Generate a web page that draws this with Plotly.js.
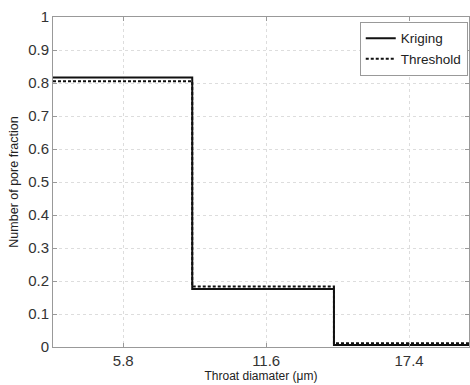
<!DOCTYPE html>
<html><head><meta charset="utf-8">
<script src="https://cdn.plot.ly/plotly-3.0.1.min.js"></script>
<style>html,body{margin:0;padding:0;background:#fff}#c{width:470px;height:385px}</style>
</head><body><div id="c"></div>
<script>
const binEdges = [2.95, 8.6, 14.35, 20.3];
const kriging = [0.817, 0.176, 0.006];
const threshold = [0.805, 0.183, 0.011];
const tickVals = [5.8, 11.6, 17.4];
const tickText = ["5.8", "11.6", "17.4"];

function steps(vals){
  const y = vals.concat([vals[vals.length-1]]);
  return {x: binEdges.slice(), y: y};
}
const k = steps(kriging), t = steps(threshold);
const fam = "Liberation Sans, Arial, sans-serif";
const traces = [
  {x: k.x, y: k.y, mode: "lines", name: "Kriging", line: {shape: "hv", color: "#111", width: 2}},
  {x: t.x, y: t.y, mode: "lines", name: "Threshold", line: {shape: "hv", color: "#111", width: 2, dash: "3px,2px"}}
];
const layout = {
  width: 470, height: 385,
  margin: {l: 53, r: 1, t: 17, b: 38},
  paper_bgcolor: "#fff", plot_bgcolor: "#fff",
  font: {family: fam, size: 13, color: "#222"},
  showlegend: true,
  legend: {x: 0.997, y: 0.985, xanchor: "right", yanchor: "top", bgcolor: "#fff",
           bordercolor: "#999", borderwidth: 1, font: {family: fam, size: 13.5, color: "#222"},
           tracegroupgap: 0, itemwidth: 30},
  xaxis: {range: [2.95, 19.83], tickvals: tickVals, ticktext: tickText, ticks: "inside", ticklen: 4,
          tickcolor: "#999", showline: true, linecolor: "#999", linewidth: 1, mirror: "ticks",
          showgrid: true, gridcolor: "#ddd", griddash: "dot", zeroline: false,
          title: {text: "Throat diamater (μm)", font: {family: fam, size: 12, color: "#222"}, standoff: 3},
          tickfont: {family: fam, size: 15, color: "#333"}},
  yaxis: {range: [0, 1], dtick: 0.1, tick0: 0, ticks: "inside", ticklen: 4,
          tickcolor: "#999", showline: true, linecolor: "#999", linewidth: 1, mirror: "ticks",
          showgrid: true, gridcolor: "#ddd", griddash: "dot", zeroline: false,
          title: {text: "Number of pore fraction", font: {family: fam, size: 12.5, color: "#222"}, standoff: 6},
          tickfont: {family: fam, size: 15, color: "#333"}}
};
Plotly.newPlot("c", traces, layout, {displayModeBar: false, staticPlot: true});
</script></body></html>
